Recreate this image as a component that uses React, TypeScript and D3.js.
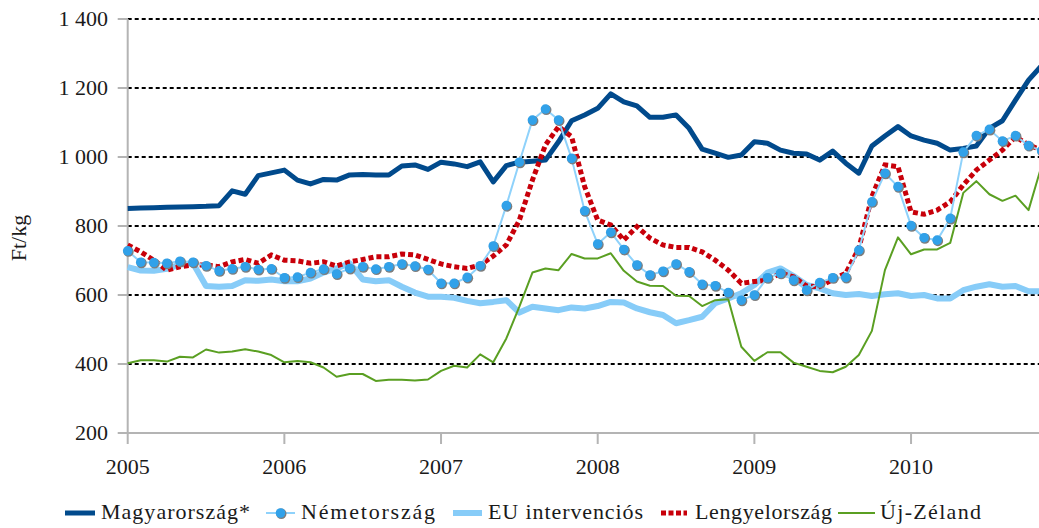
import React from "react";
import * as d3 from "d3";

const years = ["2005", "2006", "2007", "2008", "2009", "2010"];
const yTicks = [200, 400, 600, 800, 1000, 1200, 1400];

// monthly values, Jan 2005 .. Nov 2010 (Ft/kg)
const magyarorszag = [851,852,853,854,855,856,857,859,902,892,946,954,962,933,922,935,933,948,949,948,948,974,977,964,985,980,972,986,928,975,985,988,991,1044,1105,1122,1141,1183,1160,1148,1115,1115,1122,1083,1023,1011,999,1006,1044,1040,1020,1011,1009,991,1017,982,953,1032,1061,1088,1061,1049,1040,1020,1025,1032,1083,1105,1165,1223,1265];
const nemetorszag = [728,695,694,692,698,695,685,670,676,682,674,676,650,652,665,675,661,677,682,675,682,690,684,674,634,634,651,685,742,859,985,1107,1139,1107,996,844,748,782,732,687,658,669,690,667,631,627,607,585,600,650,663,643,614,636,650,651,730,870,953,914,801,766,759,822,1014,1062,1080,1046,1062,1033,1018];
const euIntervencios = [681,671,670,676,688,692,626,624,626,643,641,645,640,640,648,665,677,692,645,640,643,624,607,595,595,592,583,576,580,585,549,566,561,556,564,561,568,580,578,561,550,542,518,527,537,576,590,605,629,665,677,655,629,619,605,600,603,597,602,605,597,600,590,590,614,624,631,624,626,611,611];
const lengyelorszag = [745,725,701,672,682,687,687,682,696,703,692,716,701,699,692,696,684,696,703,711,711,719,716,703,690,682,677,687,713,745,817,933,1035,1088,1059,914,817,803,759,798,765,745,738,738,725,701,672,634,639,643,663,653,626,624,645,663,735,885,977,972,841,834,846,870,919,962,991,1020,1059,1035,1020];
const ujZeland = [402,411,411,407,421,419,442,433,436,443,436,426,405,409,405,390,363,371,371,351,354,354,352,355,380,395,390,428,405,474,566,665,677,672,719,706,706,721,670,639,627,626,598,597,568,585,588,450,409,434,434,404,392,380,376,392,426,496,672,767,718,732,732,751,896,930,892,873,888,846,975];

const seriesNames = ["Magyarország*", "Németország", "EU intervenciós", "Lengyelország", "Új-Zéland"];

const W = 1039;
const H = 528;
const FONT = "Liberation Serif, DejaVu Serif, serif";

export default function App() {
  const x = d3.scaleLinear().domain([0, 70]).range([127.7, 1041.6]);
  const y = d3.scaleLinear().domain([200, 1400]).range([433, 19]);
  const line = d3
    .line<number>()
    .x((_, i) => x(i))
    .y((d) => y(d));

  const fmt = (v: number) =>
    v >= 1000 ? `${Math.floor(v / 1000)} ${String(v % 1000).padStart(3, "0")}` : String(v);

  const axisColor = "#b4b4b4";
  const cHu = "#014a8c";
  const cDeLine = "#8fd2fb";
  const cDeDot = "#31a1e9";
  const cEu = "#87ccf8";
  const cPl = "#c8000a";
  const cNz = "#5a9f22";

  const textStyle = { fontFamily: FONT };

  const legendY = 513;
  const legend = [
    { x1: 65, x2: 95, tx: 101, tw: 149 },
    { x1: 266, x2: 295, tx: 301, tw: 134 },
    { x1: 453, x2: 482, tx: 488, tw: 155 },
    { x1: 661, x2: 687, tx: 695, tw: 137 },
    { x1: 838, x2: 875, tx: 880, tw: 101 },
  ];

  const marker = (cx: number, cy: number, key: string) => (
    <g key={key}>
      <circle cx={cx + 0.8} cy={cy + 0.8} r={5.2} fill="#7d7d7d" />
      <circle cx={cx} cy={cy} r={4.8} fill={cDeDot} />
    </g>
  );

  return (
    <svg width={W} height={H} style={{ position: "absolute", left: 0, top: 0, background: "#fff" }}>
      <rect width={W} height={H} fill="#fff" />
      {/* gridlines */}
      {yTicks.filter((t) => t > 200).map((t) => (
        <line key={"g" + t} x1={x(0)} x2={W} y1={y(t)} y2={y(t)} stroke="#000" strokeWidth={2} strokeDasharray="4,3" />
      ))}
      {/* axes */}
      <line x1={x(0)} x2={x(0)} y1={y(1400)} y2={y(200)} stroke={axisColor} strokeWidth={2} />
      <line x1={x(0) - 1} x2={W} y1={y(200)} y2={y(200)} stroke={axisColor} strokeWidth={2} />
      {yTicks.map((t) => (
        <g key={"yt" + t}>
          <line x1={x(0) - 10} x2={x(0)} y1={y(t)} y2={y(t)} stroke={axisColor} strokeWidth={2} />
          <text x={108} y={y(t)} dy="0.34em" textAnchor="end" fontSize={22} fill="#1a1a1a" style={textStyle}>
            {fmt(t)}
          </text>
        </g>
      ))}
      {years.map((yr, i) => (
        <g key={"xt" + yr}>
          <line x1={x(i * 12)} x2={x(i * 12)} y1={y(200)} y2={y(200) + 11} stroke={axisColor} strokeWidth={2} />
          <text x={x(i * 12)} y={474} textAnchor="middle" fontSize={22} fill="#1a1a1a" style={textStyle}>
            {yr}
          </text>
        </g>
      ))}
      <text transform="translate(26,238) rotate(-90)" textAnchor="middle" fontSize={22} fill="#1a1a1a" style={textStyle}>
        Ft/kg
      </text>

      {/* series */}
      <path d={line(euIntervencios) || ""} fill="none" stroke={cEu} strokeWidth={6} strokeLinejoin="round" />
      <path d={line(magyarorszag) || ""} fill="none" stroke={cHu} strokeWidth={5} strokeLinejoin="round" />
      <path d={line(ujZeland) || ""} fill="none" stroke={cNz} strokeWidth={2} strokeLinejoin="round" />
      <path d={line(lengyelorszag) || ""} fill="none" stroke={cPl} strokeWidth={5} strokeDasharray="5,3" />
      <path d={line(nemetorszag) || ""} fill="none" stroke={cDeLine} strokeWidth={2} strokeLinejoin="round" />
      {nemetorszag.map((v, i) => marker(x(i), y(v), "m" + i))}

      {/* legend */}
      <line x1={legend[0].x1} x2={legend[0].x2} y1={legendY} y2={legendY} stroke={cHu} strokeWidth={5} />
      <line x1={legend[1].x1} x2={legend[1].x2} y1={legendY} y2={legendY} stroke={cDeLine} strokeWidth={2} />
      {marker((legend[1].x1 + legend[1].x2) / 2, legendY, "lm")}
      <line x1={legend[2].x1} x2={legend[2].x2} y1={legendY} y2={legendY} stroke={cEu} strokeWidth={6} />
      <line x1={legend[3].x1} x2={legend[3].x2} y1={legendY} y2={legendY} stroke={cPl} strokeWidth={5} strokeDasharray="5,2.5" />
      <line x1={legend[4].x1} x2={legend[4].x2} y1={legendY} y2={legendY} stroke={cNz} strokeWidth={2} />
      {seriesNames.map((n, i) => (
        <text key={n} x={legend[i].tx} y={519} fontSize={22} fill="#1a1a1a" style={textStyle} textLength={legend[i].tw} lengthAdjust="spacing">
          {n}
        </text>
      ))}
    </svg>
  );
}
